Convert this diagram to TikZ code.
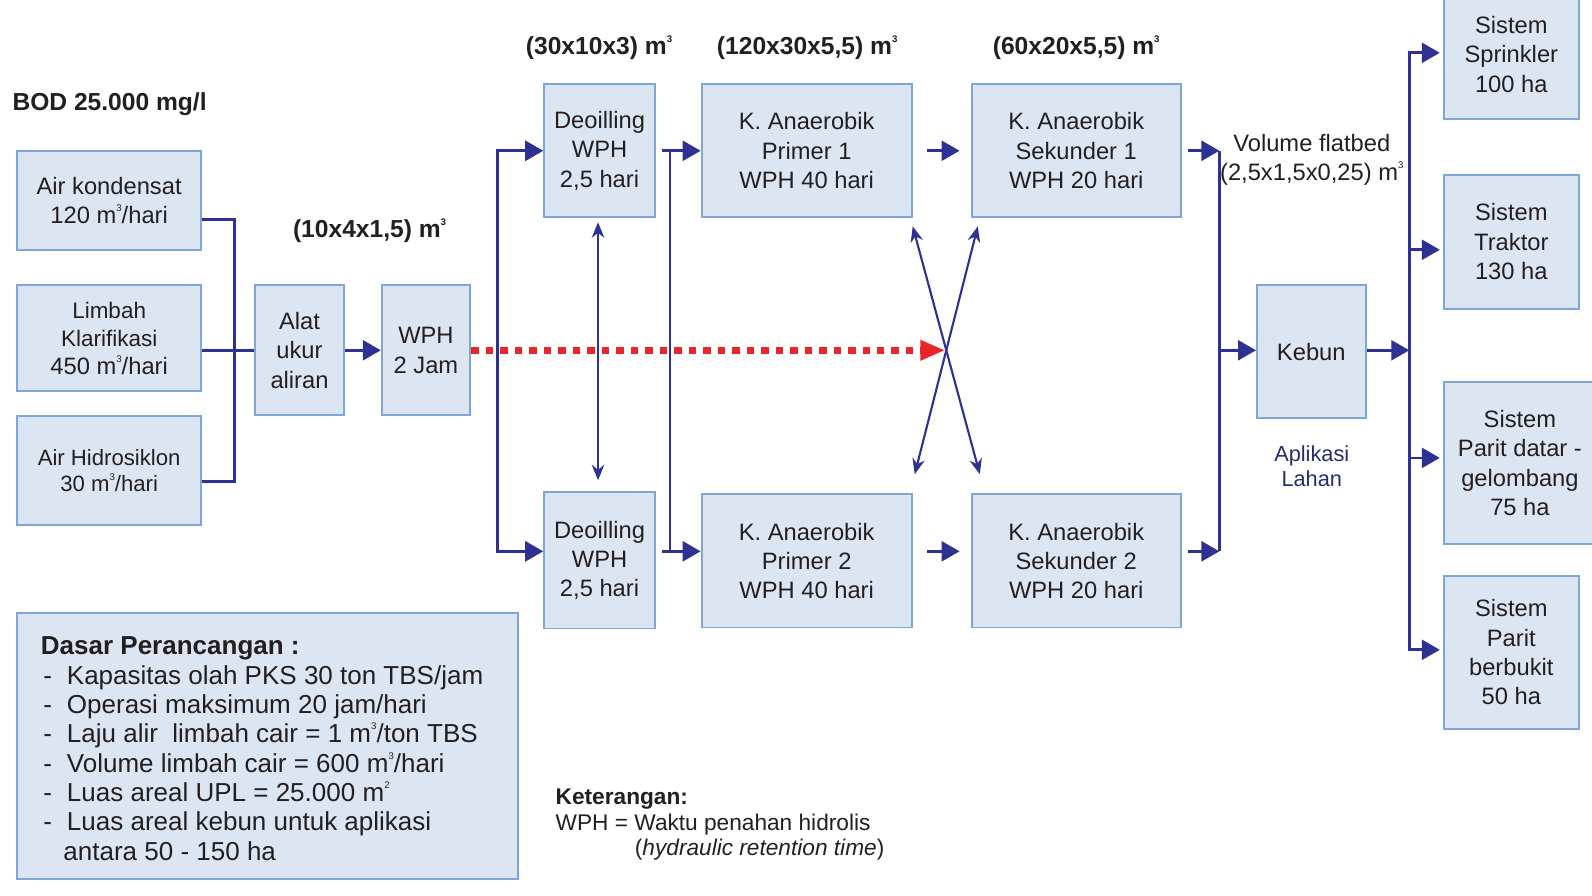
\documentclass[tikz,border=0pt]{standalone}
\usepackage{fontspec}
\setmainfont{Liberation Sans}
\usetikzlibrary{arrows.meta}
\definecolor{boxfill}{HTML}{DCE6F2}
\definecolor{boxborder}{HTML}{7EA6D8}
\definecolor{navy}{HTML}{2E3192}
\definecolor{navytext}{HTML}{262D6E}
\definecolor{redc}{HTML}{E8262A}
\definecolor{txt}{HTML}{231F20}
\newlength\px
\setlength\px{0.020306cm}
\newcommand\cubic{\raisebox{0.95ex}{\fontsize{5.5}{5.5}\selectfont 3}}
\newcommand\sqr{\raisebox{0.95ex}{\fontsize{5.5}{5.5}\selectfont 2}}
\newcommand\fsbox{\fontsize{13.5}{16.7}\selectfont}
\newcommand\itemdash{\makebox[0.52cm][l]{\hspace{0.05cm}-}}
\begin{document}
\begin{tikzpicture}[x=0.020306cm, y=-0.020306cm,
  box/.style={draw=boxborder, fill=boxfill, line width=1.1pt, inner sep=0pt, align=center, text=txt, font=\fsbox},
  conn/.style={draw=navy, line width=1.5pt},
  arr/.style={conn, -{Triangle[length=0.36cm,width=0.40cm]}},
  dbl/.style={draw=navy, line width=1.2pt, {Stealth[length=0.31cm,width=0.25cm]}-{Stealth[length=0.31cm,width=0.25cm]}},
  reddot/.style={draw=redc, line width=0.14cm, dash pattern=on 0.15cm off 0.14cm, -{Triangle[length=0.5cm,width=0.38cm]}},
  lbl/.style={font=\bfseries\fontsize{14}{16.7}\selectfont, text=txt, inner sep=0pt},
  plain/.style={font=\fsbox, text=txt, inner sep=0pt, align=center}
]
\clip (0,0) rectangle (1568,882);
\fill[white] (0,0) rectangle (1568,882);

% left sources
\node[box, minimum width=181\px, minimum height=97\px] (ak) at (107.5,197.5) {Air kondensat\\120 m\cubic/hari};
\node[box, minimum width=181\px, minimum height=104\px, font=\fontsize{12.8}{16}\selectfont] (lk) at (107.5,333) {Limbah\\Klarifikasi\\{\fontsize{13.5}{16}\selectfont 450 m\cubic/hari}};
\node[box, minimum width=181\px, minimum height=107\px, font=\fontsize{12.6}{15}\selectfont] (ah) at (107.5,463.5) {Air Hidrosiklon\\30 m\cubic/hari};
\node[box, minimum width=88\px, minimum height=128\px] (alat) at (295,345) {Alat\\ukur\\aliran};
\node[box, minimum width=87\px, minimum height=128\px] (wph) at (419.5,345) {WPH\\2 Jam};

% ponds
\node[box, minimum width=109\px, minimum height=131\px] (d1) at (590.5,148.5) {Deoilling\\WPH\\2,5 hari};
\node[box, minimum width=109\px, minimum height=134\px] (d2) at (590.5,552) {Deoilling\\WPH\\2,5 hari};
\node[box, minimum width=207\px, minimum height=131\px] (p1) at (794.5,148.5) {K. Anaerobik\\Primer 1\\WPH 40 hari};
\node[box, minimum width=207\px, minimum height=131\px] (p2) at (794.5,552.5) {K. Anaerobik\\Primer 2\\WPH 40 hari};
\node[box, minimum width=206\px, minimum height=131\px] (s1) at (1060,148.5) {K. Anaerobik\\Sekunder 1\\WPH 20 hari};
\node[box, minimum width=206\px, minimum height=131\px] (s2) at (1060,552.5) {K. Anaerobik\\Sekunder 2\\WPH 20 hari};
\node[box, minimum width=107\px, minimum height=131\px] (kebun) at (1291.5,346.5) {Kebun};

% application systems
\node[box, minimum width=133\px, minimum height=127\px] (sp) at (1488.5,53.5) {Sistem\\Sprinkler\\100 ha};
\node[box, minimum width=133\px, minimum height=132\px] (tr) at (1488.5,238) {Sistem\\Traktor\\130 ha};
\node[box, minimum width=150\px, minimum height=160\px] (pd) at (1497,456) {Sistem\\Parit datar -\\gelombang\\75 ha};
\node[box, minimum width=133\px, minimum height=151\px] (pb) at (1488.5,642.5) {Sistem\\Parit\\berbukit\\50 ha};

% labels
\node[lbl, anchor=west] (bod) at (12,103) {BOD 25.000 mg/l};
\node[lbl] (v0) at (364,227) {(10x4x1,5) m\cubic};
\node[lbl] (v1) at (590,47) {(30x10x3) m\cubic};
\node[lbl] (v2) at (795,47) {(120x30x5,5) m\cubic};
\node[lbl] (v3) at (1060,47) {(60x20x5,5) m\cubic};
\node[plain] (vol) at (1292,157.5) {Volume flatbed\\(2,5x1,5x0,25) m\cubic};
\node[inner sep=0pt, align=center, text=navytext, font=\fontsize{12.4}{14}\selectfont] (apl) at (1292,459) {Aplikasi\\Lahan};

% connectors: inflow
\coordinate (j1) at (231,216);
\coordinate (j3) at (231,474);
\draw[conn] (ak.east |- j1) -- (j1) -- (j3) -- (ah.east |- j3);
\draw[conn] (lk.east |- alat.west) -- (alat.west);
\draw[arr] (alat.east) -- (wph.west);

% bus to deoilling
\coordinate (b1t) at (490,148.5);
\coordinate (b1b) at (490,543);
\draw[arr] (b1b) -- (b1t) -- (d1.west);
\draw[arr] (b1t) -- (b1b) -- (d2.west |- b1b);
\draw[dbl] ([shift={(-1.5,4)}]d1.south) -- ([shift={(-1.5,-11)}]d2.north);

% bus to primary
\coordinate (c1) at (660,148.5);
\coordinate (c2) at (660,543);
\draw[conn] (c1) -- (c2);
\draw[arr] ([xshift=6\px]d1.east) -- (p1.west);
\draw[arr] ([xshift=6\px]d2.east |- c2) -- (p2.west |- c2);

% primary to secondary
\draw[arr] ([xshift=14\px]p1.east) -- ([xshift=-11\px]s1.west);
\draw[arr] ([xshift=14\px]p2.east |- c2) -- ([xshift=-11\px]s2.west |- c2);

% red dotted flow
\coordinate (xc) at (931,345);
\draw[reddot] (wph.east) -- (xc);

% cross connections
\draw[dbl] ([shift={(0,8)}]p1.south east) -- ([shift={(9,-19)}]s2.north west);
\draw[dbl] ([shift={(7,8)}]s1.south west) -- ([shift={(2,-19)}]p2.north east);

% bus to kebun
\coordinate (e1) at (1201,148.5);
\coordinate (e2) at (1201,543);
\coordinate (e3) at (1201,345);
\draw[conn] (e1) -- (e2);
\draw[arr] ([xshift=6\px]s1.east) -- (e1);
\draw[arr] ([xshift=6\px]s2.east |- e2) -- (e2);
\draw[arr] (e3) -- (kebun.west |- e3);

% bus to systems
\coordinate (f0) at (1388,345);
\coordinate (f1) at (1388,52);
\coordinate (f2) at (1388,246);
\coordinate (f3) at (1388,451);
\coordinate (f4) at (1388,640);
\draw[arr] (kebun.east |- f0) -- (f0);
\draw[arr] (f4) -- (f1) -- ([xshift=-3\px]sp.west |- f1);
\draw[arr] (f1) -- (f4) -- ([xshift=-3\px]pb.west |- f4);
\draw[arr] (f2) -- ([xshift=-3\px]tr.west |- f2);
\draw[arr] (f3) -- ([xshift=-3\px]pd.west |- f3);

% design basis
\node[draw=boxborder, fill=boxfill, line width=1.1pt, inner sep=0pt, minimum width=493\px, minimum height=262\px] (dbox) at (263.5,735) {};
\node[anchor=north west, inner sep=0pt, align=left, text=txt, font=\fontsize{14.8}{16.7}\selectfont] (dtext) at (40,627) {%
\textbf{Dasar Perancangan :}\\
\itemdash Kapasitas olah PKS 30 ton TBS/jam\\
\itemdash Operasi maksimum 20 jam/hari\\
\itemdash Laju alir\ \ limbah cair = 1 m\cubic/ton TBS\\
\itemdash Volume limbah cair = 600 m\cubic/hari\\
\itemdash Luas areal UPL = 25.000 m\sqr\\
\itemdash Luas areal kebun untuk aplikasi\\
\hspace*{0.45cm}antara 50 - 150 ha};

% legend
\node[anchor=north west, inner sep=0pt, align=left, text=txt, font=\fontsize{12.9}{14.4}\selectfont] (ket) at (547,777) {%
\textbf{Keterangan:}\\
WPH = Waktu penahan hidrolis\\
\hspace*{1.584cm}(\textit{hydraulic retention time})};
\end{tikzpicture}
\end{document}
